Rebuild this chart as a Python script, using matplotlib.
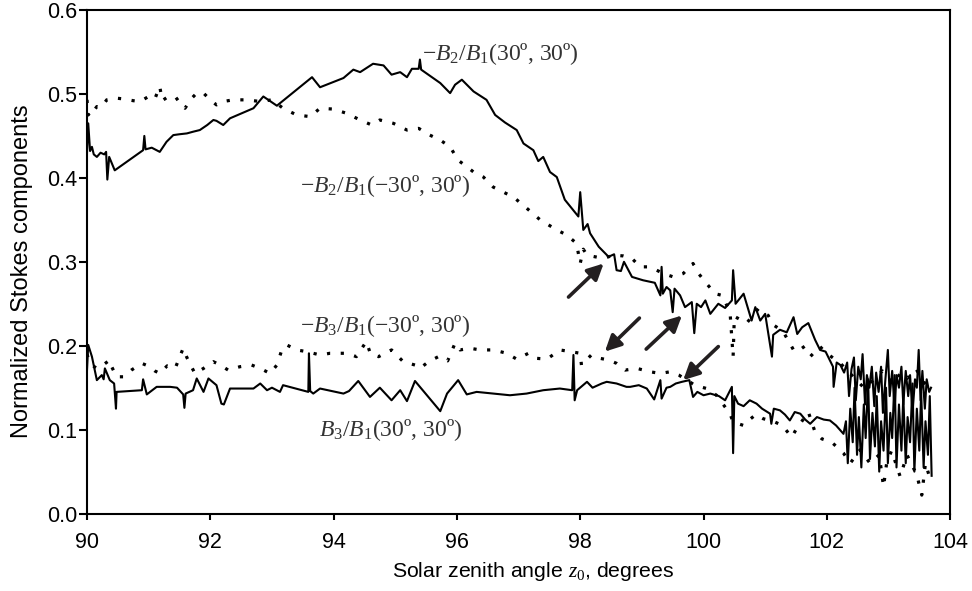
import matplotlib
matplotlib.use("Agg")
import matplotlib.pyplot as plt

plt.rcParams["font.family"] = ["Liberation Sans", "DejaVu Sans"]
plt.rcParams["mathtext.fontset"] = "custom"
plt.rcParams["mathtext.rm"] = "Liberation Serif"
plt.rcParams["mathtext.it"] = "Liberation Serif:italic"

# --- -B2/B1(30,30): upper solid ---
B2_P_X = [90.00, 90.02, 90.05, 90.08, 90.11, 90.16, 90.22, 90.28, 90.31, 90.33, 90.36, 90.45,
          90.91, 90.93, 90.95, 91.05, 91.18, 91.29, 91.40, 91.50, 91.62, 91.72, 91.83, 91.95,
          92.05, 92.10, 92.21, 92.32, 92.70, 92.86, 93.08, 93.65, 93.78, 94.16, 94.32, 94.43,
          94.64, 94.81, 94.94, 95.08, 95.19, 95.27, 95.38, 95.40, 95.42, 95.73, 95.89, 95.97,
          96.08, 96.27, 96.48, 96.62, 96.78, 96.97, 97.08, 97.24, 97.32, 97.40, 97.51, 97.62,
          97.75, 97.97, 98.00, 98.05, 98.12, 98.16, 98.30, 98.46, 98.55, 98.59, 98.66, 98.71,
          98.84, 99.02, 99.21, 99.30, 99.32, 99.34, 99.40, 99.46, 99.50, 99.53, 99.62, 99.70,
          99.81, 99.85, 99.89, 99.96, 100.03, 100.11, 100.24, 100.35, 100.46, 100.48, 100.52,
          100.65, 100.78, 100.84, 100.92, 101.00, 101.11, 101.13, 101.24, 101.35, 101.46, 101.52,
          101.60, 101.70, 101.81, 101.89, 101.98, 102.10, 102.11, 102.16, 102.22, 102.28, 102.33,
          102.36, 102.40, 102.44, 102.47, 102.51, 102.55, 102.58, 102.62, 102.65, 102.69, 102.73,
          102.77, 102.80, 102.84, 102.88, 102.91, 102.95, 102.99, 103.02, 103.06, 103.10, 103.13,
          103.17, 103.21, 103.24, 103.28, 103.32, 103.35, 103.39, 103.43, 103.46, 103.49, 103.52,
          103.55, 103.59, 103.62, 103.66, 103.69]
B2_P_Y = [0.430, 0.465, 0.432, 0.437, 0.428, 0.425, 0.430, 0.428, 0.431, 0.398, 0.425, 0.409,
          0.433, 0.450, 0.434, 0.436, 0.431, 0.443, 0.451, 0.452, 0.453, 0.455, 0.457, 0.463,
          0.469, 0.468, 0.463, 0.471, 0.483, 0.497, 0.486, 0.520, 0.508, 0.519, 0.529, 0.526,
          0.536, 0.534, 0.523, 0.526, 0.520, 0.530, 0.530, 0.541, 0.529, 0.513, 0.501, 0.511,
          0.517, 0.503, 0.493, 0.475, 0.466, 0.457, 0.441, 0.433, 0.420, 0.425, 0.407, 0.401,
          0.374, 0.354, 0.383, 0.338, 0.345, 0.334, 0.318, 0.306, 0.309, 0.290, 0.289, 0.300,
          0.282, 0.278, 0.275, 0.260, 0.294, 0.262, 0.270, 0.266, 0.240, 0.268, 0.260, 0.246,
          0.252, 0.215, 0.250, 0.246, 0.254, 0.238, 0.250, 0.245, 0.254, 0.290, 0.250,
          0.262, 0.230, 0.246, 0.230, 0.238, 0.187, 0.213, 0.219, 0.216, 0.234, 0.214,
          0.222, 0.227, 0.207, 0.195, 0.193, 0.175, 0.151, 0.180, 0.177, 0.168, 0.180,
          0.140, 0.172, 0.186, 0.135, 0.175, 0.160, 0.190, 0.130, 0.165, 0.150, 0.175,
          0.128, 0.168, 0.145, 0.175, 0.120, 0.160, 0.195, 0.140, 0.170, 0.125, 0.165,
          0.150, 0.175, 0.130, 0.170, 0.140, 0.165, 0.120, 0.160, 0.150, 0.195, 0.135,
          0.170, 0.125, 0.160, 0.145, 0.150]

# --- -B2/B1(-30,30): upper dotted ---
B2_M_X = [90.00, 90.02, 90.05, 90.08, 90.12, 90.16, 90.22, 90.27, 90.32, 90.40, 90.48, 90.60,
          90.75, 90.86, 91.00, 91.10, 91.18, 91.22, 91.30, 91.43, 91.52, 91.59, 91.70, 91.78,
          91.83, 91.89, 92.00, 92.10, 92.21, 92.37, 92.59, 92.81, 93.00, 93.18, 93.40, 93.62,
          93.78, 93.99, 94.21, 94.43, 94.62, 94.75, 94.97, 95.19, 95.38, 95.56, 95.73, 95.89,
          96.02, 96.15, 96.27, 96.43, 96.59, 96.70, 96.81, 96.92, 97.13, 97.35, 97.62, 97.78,
          97.94, 98.00, 98.05, 98.11, 98.24, 98.38, 98.54, 98.70, 98.84, 98.97, 99.13, 99.35,
          99.51, 99.67, 99.83, 99.92, 100.05, 100.19, 100.30, 100.43, 100.48, 100.50, 100.70,
          100.89, 101.05, 101.13, 101.29, 101.46, 101.60, 101.73, 101.89, 101.98, 102.22, 102.43,
          102.60, 102.76, 102.90, 103.08, 103.20, 103.30, 103.45, 103.57, 103.68]
B2_M_Y = [0.493, 0.475, 0.478, 0.483, 0.481, 0.485, 0.484, 0.488, 0.493, 0.494, 0.495, 0.494,
          0.492, 0.491, 0.497, 0.494, 0.509, 0.492, 0.496, 0.497, 0.488, 0.483, 0.495, 0.501,
          0.500, 0.501, 0.493, 0.487, 0.491, 0.493, 0.493, 0.491, 0.493, 0.483, 0.475, 0.473,
          0.483, 0.482, 0.477, 0.469, 0.463, 0.469, 0.465, 0.457, 0.459, 0.451, 0.445, 0.437,
          0.421, 0.414, 0.407, 0.401, 0.389, 0.385, 0.381, 0.377, 0.364, 0.350, 0.338, 0.332,
          0.322, 0.298, 0.315, 0.308, 0.306, 0.304, 0.308, 0.307, 0.304, 0.294, 0.294, 0.286,
          0.282, 0.286, 0.298, 0.286, 0.274, 0.262, 0.260, 0.240, 0.187, 0.235, 0.227,
          0.244, 0.236, 0.225, 0.217, 0.195, 0.200, 0.187, 0.199, 0.192, 0.179, 0.163,
          0.150, 0.159, 0.170, 0.155, 0.168, 0.161, 0.172, 0.157, 0.149]

# --- -B3/B1(-30,30): lower dotted ---
B3_M_X = [90.00, 90.03, 90.08, 90.16, 90.26, 90.37, 90.40, 90.48, 90.59, 90.72, 90.89, 91.02,
          91.10, 91.18, 91.30, 91.43, 91.56, 91.62, 91.75, 91.89, 92.05, 92.16, 92.29, 92.48,
          92.67, 92.81, 92.97, 93.08, 93.16, 93.24, 93.40, 93.56, 93.78, 93.94, 94.21, 94.37,
          94.53, 94.60, 94.73, 94.94, 95.13, 95.32, 95.40, 95.54, 95.70, 95.85, 95.97, 96.05,
          96.21, 96.38, 96.59, 96.81, 96.97, 97.16, 97.29, 97.46, 97.67, 97.84, 98.00, 98.02,
          98.18, 98.32, 98.46, 98.59, 98.73, 98.92, 99.13, 99.30, 99.46, 99.60, 99.86, 100.05,
          100.21, 100.43, 100.48, 100.65, 100.73, 100.85, 100.97, 101.13, 101.28, 101.43, 101.50,
          101.70, 101.81, 101.92, 102.08, 102.27, 102.38, 102.54, 102.70, 102.85, 102.92, 102.97,
          103.05, 103.19, 103.30, 103.40, 103.46, 103.54, 103.60, 103.68]
B3_M_Y = [0.190, 0.183, 0.177, 0.173, 0.177, 0.183, 0.175, 0.163, 0.163, 0.171, 0.179, 0.175,
          0.170, 0.167, 0.176, 0.173, 0.197, 0.186, 0.167, 0.173, 0.181, 0.177, 0.171, 0.175,
          0.177, 0.173, 0.167, 0.177, 0.195, 0.201, 0.195, 0.193, 0.189, 0.191, 0.191, 0.187,
          0.205, 0.190, 0.187, 0.195, 0.181, 0.177, 0.173, 0.181, 0.187, 0.182, 0.203, 0.195,
          0.197, 0.195, 0.195, 0.191, 0.184, 0.191, 0.185, 0.184, 0.195, 0.193, 0.191, 0.177,
          0.189, 0.185, 0.183, 0.179, 0.171, 0.173, 0.169, 0.167, 0.169, 0.165, 0.153, 0.149,
          0.141, 0.119, 0.109, 0.105, 0.111, 0.118, 0.113, 0.110, 0.105, 0.091, 0.100,
          0.121, 0.097, 0.089, 0.085, 0.072, 0.060, 0.076, 0.060, 0.070, 0.032, 0.060,
          0.075, 0.044, 0.070, 0.055, 0.046, 0.022, 0.060, 0.040]

# --- B3/B1(30,30): lower solid ---
B3_P_X = [90.00, 90.02, 90.08, 90.16, 90.24, 90.27, 90.29, 90.37, 90.44, 90.47, 90.48, 90.89,
          90.91, 90.97, 91.13, 91.35, 91.46, 91.56, 91.58, 91.60, 91.72, 91.78, 91.89, 91.97,
          92.10, 92.18, 92.22, 92.32, 92.70, 92.81, 92.92, 93.00, 93.13, 93.18, 93.59, 93.60,
          93.62, 93.67, 93.78, 94.16, 94.25, 94.40, 94.59, 94.75, 94.94, 95.08, 95.19, 95.32,
          95.73, 95.84, 96.02, 96.16, 96.32, 96.59, 96.86, 97.13, 97.40, 97.67, 97.87, 97.89,
          97.91, 97.95, 98.11, 98.20, 98.35, 98.43, 98.59, 98.75, 98.81, 98.95, 99.08, 99.20,
          99.30, 99.32, 99.40, 99.46, 99.55, 99.65, 99.77, 99.83, 99.90, 100.00, 100.11, 100.25,
          100.35, 100.46, 100.48, 100.50, 100.56, 100.65, 100.75, 100.86, 100.95, 101.08, 101.10,
          101.14, 101.24, 101.32, 101.40, 101.48, 101.57, 101.65, 101.73, 101.84, 101.95, 102.05,
          102.15, 102.27, 102.31, 102.34, 102.38, 102.42, 102.45, 102.49, 102.52, 102.56, 102.60,
          102.63, 102.67, 102.70, 102.74, 102.78, 102.81, 102.85, 102.88, 102.92, 102.96, 102.99,
          103.03, 103.06, 103.10, 103.13, 103.17, 103.21, 103.24, 103.28, 103.31, 103.35, 103.39,
          103.42, 103.46, 103.50, 103.53, 103.57, 103.60, 103.64, 103.67, 103.70]
B3_P_Y = [0.171, 0.201, 0.187, 0.159, 0.165, 0.160, 0.173, 0.159, 0.155, 0.125, 0.145, 0.147,
          0.160, 0.142, 0.151, 0.151, 0.150, 0.142, 0.126, 0.143, 0.147, 0.161, 0.145, 0.161,
          0.153, 0.131, 0.130, 0.149, 0.149, 0.155, 0.147, 0.150, 0.145, 0.153, 0.145, 0.191,
          0.146, 0.143, 0.149, 0.143, 0.146, 0.158, 0.139, 0.150, 0.135, 0.147, 0.134, 0.158,
          0.122, 0.143, 0.159, 0.142, 0.145, 0.143, 0.141, 0.143, 0.147, 0.149, 0.147, 0.189,
          0.135, 0.147, 0.157, 0.150, 0.155, 0.157, 0.155, 0.151, 0.151, 0.153, 0.149, 0.136,
          0.159, 0.137, 0.150, 0.151, 0.155, 0.157, 0.159, 0.139, 0.145, 0.141, 0.143, 0.140,
          0.135, 0.151, 0.072, 0.140, 0.131, 0.128, 0.135, 0.131, 0.125, 0.119, 0.107,
          0.125, 0.123, 0.118, 0.111, 0.121, 0.119, 0.112, 0.107, 0.115, 0.112, 0.111,
          0.105, 0.095, 0.110, 0.060, 0.125, 0.085, 0.150, 0.070, 0.115, 0.055, 0.130,
          0.090, 0.160, 0.065, 0.120, 0.080, 0.140, 0.050, 0.110, 0.075, 0.150, 0.060,
          0.120, 0.090, 0.165, 0.055, 0.130, 0.075, 0.140, 0.060, 0.115, 0.085, 0.155,
          0.050, 0.125, 0.075, 0.145, 0.055, 0.110, 0.070, 0.140, 0.045]

# curve labels: (text, x, y)
LABELS = [
    (r"$-B_2/B_1$(30º, 30º)", 96.70, 0.548),
    (r"$-B_2/B_1$(−30º, 30º)", 94.83, 0.390),
    (r"$-B_3/B_1$(−30º, 30º)", 94.83, 0.223),
    (r"$B_3/B_1$(30º, 30º)", 94.93, 0.099),
]
# arrows: (tail x, tail y, tip x, tip y)
ARROWS = [
    (97.81, 0.258, 98.38, 0.298),
    (98.96, 0.233, 98.40, 0.193),
    (99.07, 0.196, 99.65, 0.236),
    (100.24, 0.199, 99.67, 0.159),
]

fig = plt.figure(figsize=(9.72, 5.91), dpi=100)
ax = fig.add_axes([0.0895, 0.131, 0.888, 0.852])

ax.plot(B2_P_X, B2_P_Y, color="black", lw=1.5)
ax.plot(B3_P_X, B3_P_Y, color="black", lw=1.5)
ax.plot(B2_M_X, B2_M_Y, color="black", lw=2.3, linestyle=(0, (1, 3.3)))
ax.plot(B3_M_X, B3_M_Y, color="black", lw=2.3, linestyle=(0, (1, 3.3)))

for txt, x, y in LABELS:
    ax.text(x, y, txt, ha="center", va="center", fontsize=17,
            family="Liberation Serif", color="#333333")

for x0, y0, x1, y1 in ARROWS:
    ax.annotate("", xy=(x1, y1), xytext=(x0, y0),
                arrowprops=dict(arrowstyle="-|>", lw=2.6, color="#231f20",
                                mutation_scale=24, shrinkA=0, shrinkB=0))

ax.set_xlim(90, 104)
ax.set_ylim(0, 0.6)
ax.set_xticks(range(90, 105, 2))
ax.set_yticks([0.0, 0.1, 0.2, 0.3, 0.4, 0.5, 0.6])
ax.set_yticklabels(["0.0", "0.1", "0.2", "0.3", "0.4", "0.5", "0.6"])
ax.tick_params(direction="out", width=1.5, labelsize=15.5, color="black")
ax.tick_params(axis="x", length=4.5, pad=9)
ax.tick_params(axis="y", length=5.5, pad=1.5)
for sp in ax.spines.values():
    sp.set_linewidth(1.5)
ax.set_xlabel("Solar zenith angle $z_0$, degrees", fontsize=15.3)
ax.set_ylabel("Normalized Stokes components", fontsize=17)
ax.xaxis.set_label_coords(0.517, -0.093)
ax.yaxis.set_label_coords(-0.063, 0.482)

fig.savefig("out.png", dpi=100)
